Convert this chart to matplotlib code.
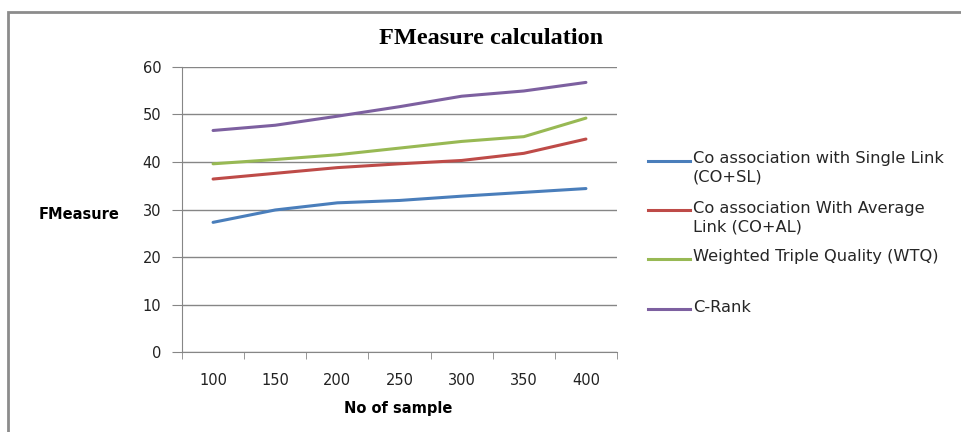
import matplotlib
matplotlib.use("Agg")
import matplotlib.pyplot as plt
from matplotlib.lines import Line2D
from matplotlib.patches import Rectangle

samples = ["100", "150", "200", "250", "300", "350", "400"]
co_sl = [27.3, 29.9, 31.4, 31.9, 32.8, 33.6, 34.4]
co_al = [36.4, 37.6, 38.8, 39.6, 40.3, 41.8, 44.8]
wtq = [39.6, 40.5, 41.5, 42.9, 44.3, 45.3, 49.2]
c_rank = [46.6, 47.7, 49.6, 51.6, 53.8, 54.9, 56.7]

series_labels = [
    "Co association with Single Link\n(CO+SL)",
    "Co association With Average\nLink (CO+AL)",
    "Weighted Triple Quality (WTQ)",
    "C-Rank",
]
colors = ["#4A7EBB", "#BE4B48", "#98B954", "#7D60A0"]

W, H = 962, 432
plt.rcParams["font.family"] = ["DejaVu Sans"]
fig = plt.figure(figsize=(W / 100, H / 100), dpi=100)

# outer chart frame (open to the right and bottom)
fig.patches.append(Rectangle((8 / W, -0.05), (W + 20) / W, 1.05 - 12 / H,
                             transform=fig.transFigure, fill=False,
                             edgecolor="#8c8c8c", linewidth=2))

ax = fig.add_axes([182 / W, 1 - 352.3 / H, (617 - 182) / W, (352.3 - 66.7) / H])
x = list(range(len(samples)))
for vals, c in zip([co_sl, co_al, wtq, c_rank], colors):
    ax.plot(x, vals, color=c, linewidth=2.2, solid_capstyle="round")

ax.set_xlim(-0.5, len(samples) - 0.5)
ax.set_ylim(0, 60)
ax.set_yticks(range(0, 61, 10))
ax.set_xticks(x)
ax.set_xticklabels(samples)
ax.set_xticks([i - 0.5 for i in range(len(samples) + 1)], minor=True)
ax.tick_params(axis="x", which="major", length=0, pad=15, labelsize=10.5)
ax.tick_params(axis="x", which="minor", length=5, color="#868686", direction="out")
ax.tick_params(axis="y", length=7, color="#868686", labelsize=10.5, pad=8)
for lab in ax.get_xticklabels() + ax.get_yticklabels():
    lab.set_color("#222222")
ax.grid(axis="y", color="#868686", linewidth=1)
ax.set_axisbelow(True)
for s in ["top", "right"]:
    ax.spines[s].set_visible(False)
for s in ["left", "bottom"]:
    ax.spines[s].set_color("#868686")

fig.text(491 / W, 1 - 38 / H, "FMeasure calculation", ha="center", va="center",
         fontsize=17.5, fontweight="bold", family="Liberation Serif")
fig.text(79 / W, 1 - 215 / H, "FMeasure", ha="center", va="center",
         fontsize=10.5, fontweight="bold")
fig.text(398 / W, 1 - 409 / H, "No of sample", ha="center", va="center",
         fontsize=10.5, fontweight="bold")

# legend entries
leg_y = [160.5, 210, 259, 309]
for lbl, c, yy in zip(series_labels, colors, leg_y):
    fig.lines.append(Line2D([648 / W, 690 / W], [1 - yy / H, 1 - yy / H],
                            transform=fig.transFigure, color=c, linewidth=2.2))
    fig.text(693 / W, 1 - (yy - 9.5) / H, lbl, ha="left", va="top",
             fontsize=11.7, color="#262626", linespacing=1.3)

fig.savefig("out.png", dpi=100)
